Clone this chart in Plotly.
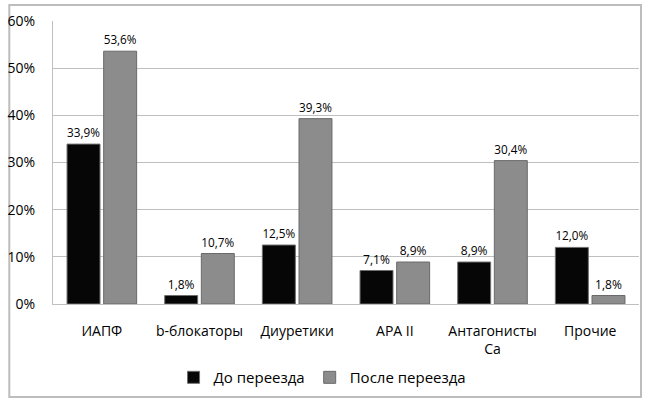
import plotly.graph_objects as go

categorias = ["ИАПФ", "b-блокаторы", "Диуретики", "АРА II", "Антагонисты<br>Ca", "Прочие"]
do_pereezda = [33.9, 1.8, 12.5, 7.1, 8.9, 12.0]
posle_pereezda = [53.6, 10.7, 39.3, 8.9, 30.4, 1.8]
y_ticks = [0, 10, 20, 30, 40, 50, 60]
y_labels = ["0%", "10%", "20%", "30%", "40%", "50%", "60%"]

fig = go.Figure()
fig.add_trace(go.Bar(
    x=categorias, y=do_pereezda, name="До переезда",
    marker=dict(color="#060606", line=dict(color="#6e6e6e", width=1)),
    texttemplate="%{y:.1f}%", textposition="outside",
    textfont=dict(size=12, color="#000000"), cliponaxis=False
))
fig.add_trace(go.Bar(
    x=categorias, y=posle_pereezda, name="После переезда",
    marker=dict(color="#8c8c8c", line=dict(color="#6a6a6a", width=1)),
    texttemplate="%{y:.1f}%", textposition="outside",
    textfont=dict(size=12, color="#000000"), cliponaxis=False
))

# рамка вокруг всей диаграммы
fig.add_shape(type="rect", xref="paper", yref="paper",
              x0=-0.0746, x1=1.0034, y0=-0.3286, y1=1.0565,
              line=dict(color="#bdbdbd", width=2), layer="below")

fig.update_layout(
    width=647, height=405,
    margin=dict(l=48, r=8, t=21, b=101),
    paper_bgcolor="white", plot_bgcolor="white",
    font=dict(family="Open Sans, sans-serif", size=14, color="#000000"),
    separators=", ",
    barmode="group", bargap=0.25, bargroupgap=0.1,
    showlegend=True,
    legend=dict(orientation="h", x=0.46, xanchor="center", y=-0.26, yanchor="middle",
                font=dict(size=15), itemwidth=30, traceorder="normal"),
)
fig.update_yaxes(
    range=[0, 60], tickvals=y_ticks, ticktext=y_labels,
    showgrid=True, gridcolor="#bfbfbf", gridwidth=1,
    showline=True, linecolor="#bfbfbf", linewidth=1,
    ticks="", ticklabelstandoff=14, tickfont=dict(size=14), zeroline=False
)
fig.update_xaxes(
    showline=True, linecolor="#bfbfbf", linewidth=1,
    ticks="", ticklabelstandoff=14, tickfont=dict(size=14)
)

fig.write_html("out.html", config={"displayModeBar": False},
               post_script="document.body.style.margin='0';")
